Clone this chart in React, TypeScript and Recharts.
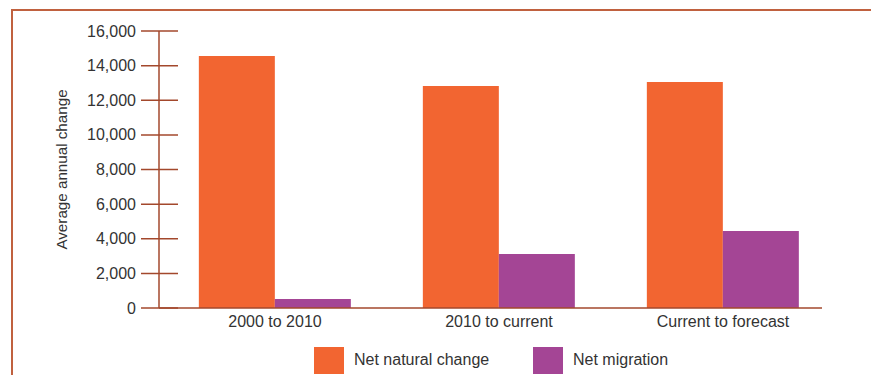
import React from 'react';
import { BarChart, Bar, XAxis, YAxis, Legend } from 'recharts';

// values
const periods = ['2000 to 2010', '2010 to current', 'Current to forecast'];
const naturalChange = [14550, 12820, 13050];
const netMigration = [520, 3120, 4450];
const yTicks = [0, 2000, 4000, 6000, 8000, 10000, 12000, 14000, 16000];

const seriesNames = ['Net natural change', 'Net migration'];
const colors = ['#F26531', '#A44595'];
const axisColor = '#a3482c';
const textColor = '#333333';
const font = '"Liberation Sans", Arial, Helvetica, sans-serif';

const data = periods.map((p, i) => ({
  period: p,
  natural: naturalChange[i],
  migration: netMigration[i],
}));

// y tick that crosses the axis line on both sides
const CrossTick = (props: any) => {
  const { x, y, payload } = props;
  return (
    <g>
      <line x1={x - 18} x2={x + 19} y1={y} y2={y} stroke={axisColor} strokeWidth={1.5} />
      <text x={x - 23} y={y} dy={5.5} textAnchor="end" fontSize={16} fill={textColor} fontFamily={font}>
        {Number(payload.value).toLocaleString('en-US')}
      </text>
    </g>
  );
};

const LegendContent = () => (
  <div style={{ display: 'flex', alignItems: 'center', height: 30, paddingLeft: 256, fontFamily: font, fontSize: 16, color: textColor }}>
    {seriesNames.map((name, i) => (
      <div key={name} style={{ display: 'flex', alignItems: 'center', width: i === 0 ? 219 : 'auto' }}>
        <span style={{ display: 'inline-block', width: 30, height: 27, background: colors[i], marginRight: 10 }} />
        <span>{name}</span>
      </div>
    ))}
  </div>
);

export default function App() {
  return (
    <div style={{ position: 'relative', width: 879, height: 383, margin: -8, overflow: 'hidden', background: '#fff' }}>
      <div
        style={{
          position: 'absolute',
          left: 11,
          top: 9,
          width: 863,
          height: 400,
          boxSizing: 'border-box',
          borderTop: `2px solid #c0613f`,
          borderLeft: `2px solid #c0613f`,
          borderRight: `2px solid #c0613f`,
        }}
      />
      <div style={{ position: 'absolute', left: 0, top: 0 }}>
        <BarChart
          width={879}
          height={383}
          data={data}
          margin={{ top: 31, right: 44, left: 58, bottom: 8 }}
          barCategoryGap="16%"
          barGap={0}
        >
          <XAxis
            dataKey="period"
            height={37}
            padding={{ left: 4, right: 0 }}
            axisLine={{ stroke: axisColor, strokeWidth: 1.5, strokeDasharray: '663 1000' }}
            tickLine={false}
            tick={{ fill: textColor, fontSize: 16, fontFamily: font }}
          />
          <YAxis
            width={101}
            domain={[0, 16000]}
            ticks={yTicks}
            interval={0}
            tickSize={0}
            tickMargin={0}
            tickLine={false}
            axisLine={{ stroke: axisColor, strokeWidth: 1.5 }}
            tick={<CrossTick />}
            label={{
              value: 'Average annual change',
              angle: -90,
              position: 'insideLeft',
              offset: 4,
              style: { textAnchor: 'middle', fill: textColor, fontSize: 15.2, fontFamily: font },
            }}
          />
          <Legend verticalAlign="bottom" align="left" content={<LegendContent />} />
          <Bar dataKey="natural" name={seriesNames[0]} fill={colors[0]} isAnimationActive={false} />
          <Bar dataKey="migration" name={seriesNames[1]} fill={colors[1]} isAnimationActive={false} />
        </BarChart>
      </div>
    </div>
  );
}
